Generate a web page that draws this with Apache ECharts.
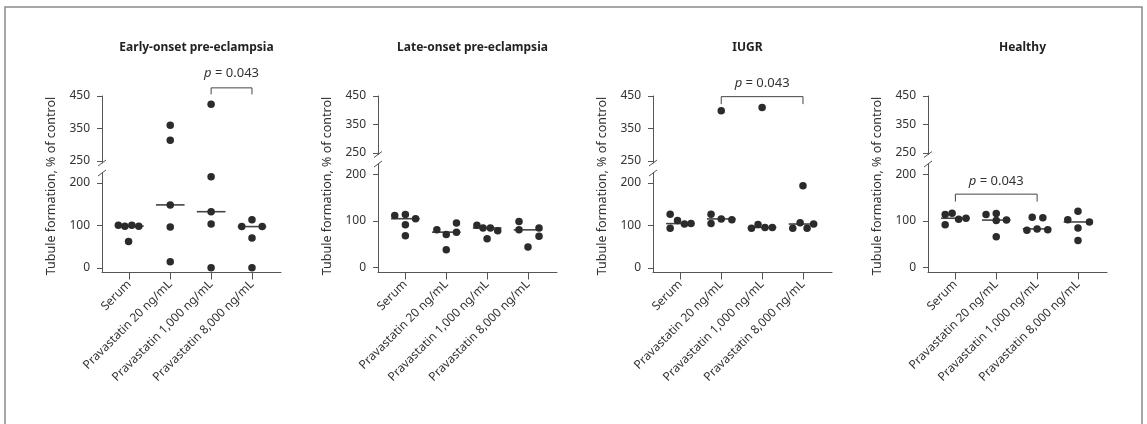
<!DOCTYPE html>
<html>
<head>
<meta charset="utf-8">
<script src="https://cdn.jsdelivr.net/npm/echarts@6/dist/echarts.min.js"></script>
<style>
html, body { margin: 0; padding: 0; background: #fff; }
#chart { width: 1147px; height: 424px; }
</style>
</head>
<body>
<div id="chart"></div>
<script>
var categories = ['Serum', 'Pravastatin 20 ng/mL', 'Pravastatin 1,000 ng/mL', 'Pravastatin 8,000 ng/mL'];
var panelTitles = ['Early-onset pre-eclampsia', 'Late-onset pre-eclampsia', 'IUGR', 'Healthy'];
var lowerTicks = [0, 100, 200];
var upperTicks = [250, 350, 450];

// tubule formation per group, % of control
var earlyValues = [[100, 98, 100, 98, 62], [360, 314, 148, 96, 14], [425, 214, 132, 103, 0], [97, 113, 97, 70, 0]];
var lateValues = [[112, 114, 105, 92, 68], [81, 71, 96, 76, 38], [91, 85, 85, 79, 62], [99, 81, 44, 85, 67]];
var iugrValues = [[126, 93, 111, 103, 104], [126, 104, 115, 113, 405], [93, 102, 95, 95, 415], [93, 106, 93, 103, 193]];
var healthyValues = [[114, 117, 92, 104, 106], [114, 116, 101, 102, 66], [108, 107, 80, 83, 81], [121, 103, 85, 98, 58]];

// sideways spread of the dots (category units)
var earlyJitter = [[-0.27, -0.11, 0.06, 0.23, -0.02], [0, 0, 0, 0, 0], [0, 0, 0, 0, 0], [-0.25, 0, 0.25, 0, 0]];
var lateJitter = [[-0.26, 0, 0.25, 0, 0], [-0.23, 0, 0.25, 0.25, 0], [-0.25, -0.1, 0.08, 0.26, 0], [-0.22, -0.22, 0, 0.27, 0.27]];
var iugrJitter = [[-0.25, -0.25, -0.07, 0.1, 0.26], [-0.25, -0.25, 0, 0.26, 0], [-0.26, -0.1, 0.07, 0.25, 0], [-0.25, -0.07, 0.1, 0.26, 0]];
var healthyJitter = [[-0.25, -0.08, -0.25, 0.08, 0.26], [-0.25, 0, 0, 0.25, 0], [-0.12, 0.14, -0.25, 0, 0.26], [0, -0.25, 0, 0.28, 0]];

var earlyMedians = [98, 148, 132, 97];
var lateMedians = [105, 76, 85, 81];
var iugrMedians = [104, 115, 95, 103];
var healthyMedians = [106, 102, 83, 98];

// p = 0.043 brackets: [from group, to group, bar value, leg value, label value]
var earlyBracket = [2, 3, 475, 455, 519];
var iugrBracket = [1, 3, 448, 425, 489];
var healthyBracket = [0, 2, 158, 142, 185];

var panels = [
  { values: earlyValues, jitter: earlyJitter, medians: earlyMedians, bracket: earlyBracket, upper: true },
  { values: lateValues, jitter: lateJitter, medians: lateMedians, bracket: null },
  { values: iugrValues, jitter: iugrJitter, medians: iugrMedians, bracket: iugrBracket, upper: true },
  { values: healthyValues, jitter: healthyJitter, medians: healthyMedians, bracket: healthyBracket, upper: false }
];

var FONT = '"Noto Sans", "Open Sans", sans-serif';
var UPPER_MIN = 244, LOWER_MIN = -11, LOWER_MAX = 223, BREAK = 244;
var lefts = [102, 378, 653, 928];
var gridW = 179;
var tall = [true, false, true, false];

var grids = [], xAxes = [], yAxes = [], series = [], titles = [], graphics = [];

function medianItem(params, api) {
  var a = api.coord([api.value(0) - 0.35, api.value(1)]);
  var b = api.coord([api.value(0) + 0.35, api.value(1)]);
  return { type: 'line', shape: { x1: a[0], y1: a[1], x2: b[0], y2: b[1] }, style: { stroke: '#444', lineWidth: 1.6 } };
}

function slashItem(params, api) {
  var c = api.coord([api.value(0), api.value(1)]);
  return { type: 'line', shape: { x1: c[0] - 4, y1: c[1] + 3, x2: c[0] + 4, y2: c[1] - 3 }, style: { stroke: '#555', lineWidth: 1 } };
}

function bracketItem(params, api) {
  var x1 = api.value(0), x2 = api.value(1), top = api.value(2), leg = api.value(3), lab = api.value(4);
  var a = api.coord([x1, leg]), b = api.coord([x1, top]), c = api.coord([x2, top]), d = api.coord([x2, leg]);
  var t = api.coord([(x1 + x2) / 2, lab]);
  return {
    type: 'group',
    children: [
      { type: 'polyline', shape: { points: [a, b, c, d] }, style: { stroke: '#444', lineWidth: 1, fill: null } },
      {
        type: 'text', x: t[0], y: t[1],
        style: {
          text: '{i|p} = 0.043', fill: '#333', fontSize: 13, fontFamily: FONT, align: 'center', verticalAlign: 'middle',
          rich: { i: { fontStyle: 'italic', fontSize: 13, fontFamily: FONT, fill: '#333' } }
        }
      }
    ]
  };
}

panels.forEach(function (p, k) {
  var upH = tall[k] ? 67 : 58.5;
  var lowH = tall[k] ? 99.5 : 108.5;
  var ui = 2 * k, li = 2 * k + 1;
  grids.push({ left: lefts[k], top: 96, width: gridW, height: upH, outerBoundsMode: 'none' });
  grids.push({ left: lefts[k], top: 272.5 - lowH, width: gridW, height: lowH, outerBoundsMode: 'none' });

  xAxes.push({ type: 'value', gridIndex: ui, min: -0.67, max: 3.71, show: false });
  xAxes.push({
    type: 'value', gridIndex: li, min: -0.67, max: 3.71,
    splitLine: { show: false },
    axisLine: { onZero: false, lineStyle: { color: '#555', width: 1 } },
    axisTick: { customValues: [0, 1, 2, 3], length: 7, lineStyle: { color: '#555' } },
    axisLabel: {
      customValues: [0, 1, 2, 3], rotate: 45, margin: 10, fontSize: 12, fontFamily: FONT, color: '#333',
      formatter: function (v) { return categories[Math.round(v)]; }
    }
  });

  var yCommon = {
    type: 'value', splitLine: { show: false },
    axisLine: { show: true, onZero: false, lineStyle: { color: '#555', width: 1 } },
    axisTick: { show: true, length: 5, lineStyle: { color: '#555' } },
    axisLabel: { fontSize: 12, fontFamily: FONT, color: '#333', margin: 12 }
  };
  yAxes.push(echarts.util.merge({
    gridIndex: ui, min: UPPER_MIN, max: 450,
    axisTick: { customValues: upperTicks }, axisLabel: { customValues: upperTicks }
  }, yCommon));
  yAxes.push(echarts.util.merge({
    gridIndex: li, min: LOWER_MIN, max: LOWER_MAX,
    axisTick: { customValues: lowerTicks }, axisLabel: { customValues: lowerTicks }
  }, yCommon));

  var up = [], low = [];
  p.values.forEach(function (group, g) {
    group.forEach(function (v, i) {
      var pt = [g + p.jitter[g][i], v];
      (v >= BREAK ? up : low).push(pt);
    });
  });

  series.push({
    type: 'custom', xAxisIndex: li, yAxisIndex: li, clip: false, z: 2,
    renderItem: medianItem, data: p.medians.map(function (m, g) { return [g, m]; })
  });
  [[ui, up], [li, low]].forEach(function (s) {
    series.push({
      type: 'scatter', xAxisIndex: s[0], yAxisIndex: s[0], symbolSize: 7.5, z: 3,
      itemStyle: { color: '#2b2b2b', opacity: 1 }, data: s[1], silent: true
    });
  });
  series.push({ type: 'custom', xAxisIndex: ui, yAxisIndex: ui, clip: false, renderItem: slashItem, data: [[-0.67, UPPER_MIN]] });
  series.push({ type: 'custom', xAxisIndex: li, yAxisIndex: li, clip: false, renderItem: slashItem, data: [[-0.67, LOWER_MAX]] });
  if (p.bracket) {
    var bi = p.upper ? ui : li;
    series.push({ type: 'custom', xAxisIndex: bi, yAxisIndex: bi, clip: false, renderItem: bracketItem, data: [p.bracket] });
  }

  titles.push({
    text: panelTitles[k], left: lefts[k] + gridW / 2, top: 37, textAlign: 'center',
    textStyle: { fontSize: 12, fontWeight: 'bold', fontFamily: FONT, color: '#222' }
  });
  graphics.push({
    type: 'text', x: lefts[k] - 51, y: 186, rotation: Math.PI / 2,
    style: { text: 'Tubule formation, % of control', fontSize: 12.5, fontFamily: FONT, fill: '#333', align: 'center', verticalAlign: 'middle' }
  });
});

graphics.push({
  type: 'rect', shape: { x: 5, y: 7, width: 1137, height: 440 },
  style: { fill: null, stroke: '#8a8a8a', lineWidth: 1.5 }
});

var chart = echarts.init(document.getElementById('chart'));
chart.setOption({
  animation: false,
  backgroundColor: '#fff',
  title: titles,
  grid: grids,
  xAxis: xAxes,
  yAxis: yAxes,
  graphic: graphics,
  series: series
});
</script>
</body>
</html>
